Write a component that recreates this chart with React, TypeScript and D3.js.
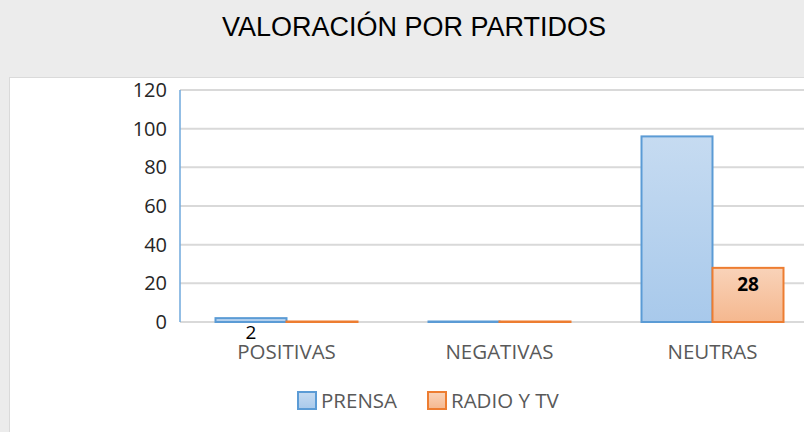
import React from "react";
import * as d3 from "d3";

const categories = ["POSITIVAS", "NEGATIVAS", "NEUTRAS"];
const seriesNames = ["PRENSA", "RADIO Y TV"];
const prensa = [2, 0, 96];
const radioTv = [0, 0, 28];
const prensaLabels = ["2", "", ""];
const radioLabels = ["", "", "28"];
const yTicks = [0, 20, 40, 60, 80, 100, 120];
const title = "VALORACIÓN POR PARTIDOS";

const W = 804;
const H = 432;

export default function App() {
  const x = d3.scaleBand<string>().domain(categories).range([180, 819]).paddingInner(1 / 3).paddingOuter(1 / 6);
  const x1 = d3.scaleBand<string>().domain(seriesNames).range([0, x.bandwidth()]);
  const y = d3.scaleLinear().domain([0, 120]).range([322, 90]);
  const series = [
    { name: seriesNames[0], values: prensa, labels: prensaLabels, fill: "url(#gBlue)", stroke: "#5b9bd5" },
    { name: seriesNames[1], values: radioTv, labels: radioLabels, fill: "url(#gOrange)", stroke: "#ed7d31" },
  ];
  const font = "'Open Sans', sans-serif";
  return (
    <svg width={W} height={H} style={{ position: "absolute", left: 0, top: 0 }}>
      <defs>
        <linearGradient id="gBlue" x1="0" y1="0" x2="0" y2="1">
          <stop offset="0" stopColor="#c6dbf1" />
          <stop offset="1" stopColor="#a8c9eb" />
        </linearGradient>
        <linearGradient id="gOrange" x1="0" y1="0" x2="0" y2="1">
          <stop offset="0" stopColor="#f9d3b9" />
          <stop offset="1" stopColor="#f5b88f" />
        </linearGradient>
      </defs>
      <rect x={0} y={0} width={W} height={H} fill="#ececec" />
      <rect x={9.5} y={77.5} width={W} height={H} fill="#ffffff" stroke="#dadada" />
      <text x={414} y={36} textAnchor="middle" fontFamily="'Liberation Sans', Arial, sans-serif" fontSize={27} fill="#000">
        {title}
      </text>
      {yTicks.map((t) => (
        <g key={t}>
          <line x1={180} x2={W} y1={y(t)} y2={y(t)} stroke="#d9d9d9" strokeWidth={2} />
          <text x={167} y={y(t) + 7} textAnchor="end" fontFamily={font} fontSize={20} fill="#262626">
            {t}
          </text>
        </g>
      ))}
      <line x1={180} x2={180} y1={y(120)} y2={y(0)} stroke="#6fa8dc" strokeWidth={1.5} />
      {series.map((s) =>
        categories.map((c, i) => {
          const bx = (x(c) as number) + (x1(s.name) as number);
          const by = y(s.values[i]);
          const h = y(0) - by;
          return (
            <rect key={s.name + c} x={bx} y={Math.min(by, y(0) - 0.5)} width={x1.bandwidth()} height={Math.max(h, 0.5)} fill={s.fill} stroke={s.stroke} strokeWidth={2} />
          );
        })
      )}
      {categories.map((c, i) =>
        prensaLabels[i] ? (
          <text key={"pl" + c} x={(x(c) as number) + (x1(seriesNames[0]) as number) + x1.bandwidth() / 2} y={339} textAnchor="middle" fontFamily={font} fontSize={19} fill="#000">
            {prensaLabels[i]}
          </text>
        ) : null
      )}
      {categories.map((c, i) =>
        radioLabels[i] ? (
          <text key={"rl" + c} x={(x(c) as number) + (x1(seriesNames[1]) as number) + x1.bandwidth() / 2} y={y(radioTv[i]) + 23} textAnchor="middle" fontFamily={font} fontSize={19} fontWeight="bold" fill="#000">
            {radioLabels[i]}
          </text>
        ) : null
      )}
      {categories.map((c) => (
        <text key={c} x={(x(c) as number) + x.bandwidth() / 2} y={359} textAnchor="middle" fontFamily={font} fontSize={20.5} fill="#595959">
          {c}
        </text>
      ))}
      <g>
        <rect x={298} y={392} width={18} height={17} fill="url(#gBlue)" stroke="#5b9bd5" strokeWidth={2} />
        <text x={321} y={408} fontFamily={font} fontSize={20.5} fill="#595959">{seriesNames[0]}</text>
        <rect x={428} y={392} width={18} height={17} fill="url(#gOrange)" stroke="#ed7d31" strokeWidth={2} />
        <text x={451} y={408} fontFamily={font} fontSize={20.5} fill="#595959">{seriesNames[1]}</text>
      </g>
    </svg>
  );
}
